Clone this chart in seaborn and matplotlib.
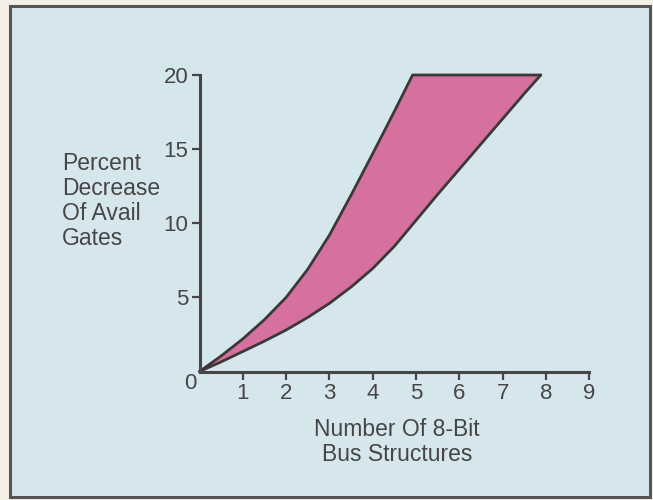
import matplotlib
matplotlib.use("Agg")
import matplotlib.pyplot as plt
import matplotlib.patches as patches
import numpy as np
import pandas as pd
import seaborn as sns

# values
bus_count = [0, 0.5, 1, 1.5, 2, 2.5, 3, 3.5, 4, 4.5, 4.92,
             5, 5.5, 6, 6.5, 7, 7.5, 7.88]
upper_pct = [0, 1.05, 2.2, 3.5, 5.0, 6.9, 9.2, 11.9, 14.7, 17.55, 20,
             20, 20, 20, 20, 20, 20, 20]
lower_pct = [0, 0.65, 1.35, 2.05, 2.8, 3.65, 4.6, 5.7, 6.95, 8.45, 9.92,
             10.2, 11.95, 13.65, 15.35, 17.05, 18.75, 20]
x_ticks = [1, 2, 3, 4, 5, 6, 7, 8, 9]
y_ticks = [5, 10, 15, 20]

band = pd.DataFrame({'buses': bus_count, 'upper': upper_pct, 'lower': lower_pct})

sns.set_style('ticks')
plt.rcParams['font.family'] = ['Liberation Sans', 'DejaVu Sans']

text_col = '#464646'
line_col = '#3d3838'
bg_col = '#d6e6ed'
fill_col = '#d5709f'

fig = plt.figure(figsize=(6.53, 5.0), dpi=100)
fig.patch.set_facecolor('#f3f0e6')
frame = patches.Rectangle((10 / 653, 3 / 500), 640 / 653, 491 / 500,
                          transform=fig.transFigure, facecolor=bg_col,
                          edgecolor='#555555', linewidth=2.2, zorder=-10)
fig.patches.append(frame)

ax = fig.add_axes([199.5 / 653, 1 - 371.5 / 500, 389.8 / 653, 296.5 / 500])
ax.set_facecolor('none')
ax.set_zorder(2)

ax.fill_between(band['buses'], band['lower'], band['upper'],
                color=fill_col, linewidth=0, clip_on=False)
sns.lineplot(data=band, x='buses', y='upper', sort=False, color=line_col,
             linewidth=2.0, ax=ax, clip_on=False)
sns.lineplot(data=band, x='buses', y='lower', sort=False, color=line_col,
             linewidth=2.0, ax=ax, clip_on=False)

ax.set_xlim(0, 9)
ax.set_ylim(0, 20)
ax.set_xticks(x_ticks)
ax.set_yticks(y_ticks)
ax.set_xlabel('')
ax.set_ylabel('')
sns.despine(ax=ax)
for side in ['left', 'bottom']:
    ax.spines[side].set_linewidth(2.2)
    ax.spines[side].set_color(text_col)
ax.tick_params(axis='both', direction='out', length=6, width=1.6,
               color=text_col, labelcolor=text_col, labelsize=16, pad=2)
ax.text(-0.22, -0.8, '0', ha='center', va='center', fontsize=16, color=text_col)

fig.text(62 / 653, 1 - 201 / 500, 'Percent\nDecrease\nOf Avail\nGates',
         ha='left', va='center', fontsize=16.5, color=text_col, linespacing=1.1)
fig.text(397 / 653, 1 - 442 / 500, 'Number Of 8-Bit\nBus Structures',
         ha='center', va='center', fontsize=16.5, color=text_col, linespacing=1.1)

fig.savefig('out.png', dpi=100, facecolor=fig.get_facecolor())
